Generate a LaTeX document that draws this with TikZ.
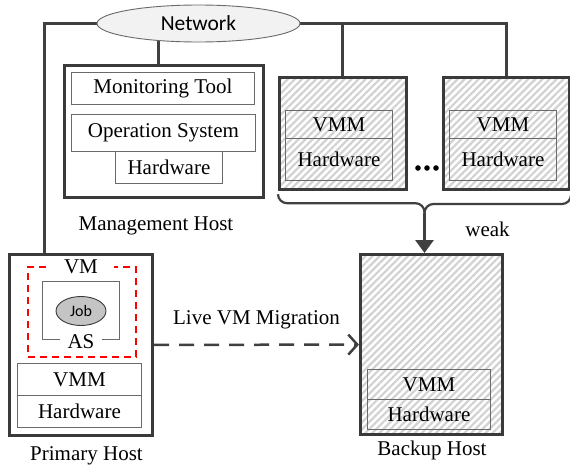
\documentclass[tikz,border=0pt]{standalone}
\usepackage{fontspec}
\setmainfont{Liberation Serif}
\newfontfamily\calibfont{Carlito}
\usetikzlibrary{shapes.geometric,arrows.meta,patterns.meta,calc}
\definecolor{wirec}{HTML}{404040}
\definecolor{edgec}{HTML}{3A3A3A}
\definecolor{thinc}{HTML}{6A6A6A}
\definecolor{hatchc}{HTML}{D2D2D2}
\definecolor{jobc}{HTML}{C4C4C4}
\definecolor{netc}{HTML}{F2F2F2}
\pgfdeclarelayer{paper}
\pgfdeclarelayer{wires}
\pgfsetlayers{paper,wires,main}

\begin{document}
\begin{tikzpicture}[x=1pt,y=-1pt,
  every node/.append style={font=\fontsize{21}{25}\selectfont},
  host/.style={draw=edgec,line width=3pt,inner sep=0pt,anchor=north west},
  hatched/.style={host,pattern={Lines[angle=45,distance=5pt,line width=2.2pt]},pattern color=hatchc},
  layer/.style={draw=thinc,line width=0.9pt,inner sep=0pt,anchor=north west},
  wire/.style={draw=wirec,line width=3pt},
  bracec/.style={draw=wirec,line width=2.2pt,rounded corners=9pt},
  caption/.style={anchor=base,inner sep=0pt}]

\useasboundingbox (0,0) rectangle (570,466);
\begin{pgfonlayer}{paper}
  \fill[white] (0,0) rectangle (570,466);
\end{pgfonlayer}

% network
\node[ellipse,draw=thinc,line width=0.9pt,fill=netc,minimum width=203pt,minimum height=37pt,inner sep=0pt,
      font=\calibfont\fontsize{21.5}{25}\selectfont] (net) at (198.5,23.5) {Network};

% management host
\node[host,minimum width=199pt,minimum height=132pt] (mh) at (63,64) {};
\node[layer,minimum width=183pt,minimum height=32pt] (mon) at (71,72) {Monitoring Tool};
\node[layer,minimum width=184pt,minimum height=37pt] (os) at (71,114) {Operation System};
\node[layer,minimum width=107pt,minimum height=32pt] (mhw) at (115,151) {Hardware};
\node[caption] (mcap) at (156,230.5) {Management Host};

% pool of hosts
\node[hatched,minimum width=127pt,minimum height=112pt] (h1) at (278,76) {};
\node[layer,minimum width=107pt,minimum height=28pt] (h1vmm) at (285,110) {VMM};
\node[layer,minimum width=107pt,minimum height=42pt] (h1hw) at (285,138) {Hardware};
\node[hatched,minimum width=126pt,minimum height=112pt] (h2) at (442,76) {};
\node[layer,minimum width=107pt,minimum height=28pt] (h2vmm) at (449,110) {VMM};
\node[layer,minimum width=107pt,minimum height=42pt] (h2hw) at (449,138) {Hardware};
\fill[black] (418,168) circle (2.8pt) (427,168) circle (2.8pt) (436,168) circle (2.8pt);

% primary host
\node[host,minimum width=143pt,minimum height=181pt] (ph) at (8,253) {};
\node[draw=red,line width=2.2pt,dash pattern=on 7pt off 5pt,inner sep=0pt,anchor=north west,
      minimum width=108pt,minimum height=90pt] (vm) at (27,266) {};
\node[draw=thinc,line width=0.9pt,inner sep=0pt,anchor=north west,
      minimum width=77pt,minimum height=58pt] (as) at (42,281) {};
\node[fill=white,inner xsep=16pt,inner ysep=3pt] (vmlab) at (81,266.5) {VM};
\node[fill=white,inner xsep=8pt,inner ysep=3pt] (aslab) at (81,342) {AS};
\node[ellipse,draw=edgec,line width=0.9pt,fill=jobc,minimum width=50pt,minimum height=29pt,inner sep=0pt,
      font=\calibfont\fontsize{16}{19}\selectfont] (job) at (81,311) {Job};
\node[layer,minimum width=124pt,minimum height=32pt] (pvmm) at (17,363) {VMM};
\node[layer,minimum width=124pt,minimum height=32pt] (phw) at (17,395) {Hardware};
\node[caption] (pcap) at (86.5,460) {Primary Host};

% backup host
\node[hatched,minimum width=142pt,minimum height=180pt] (bp) at (359,253) {};
\node[layer,minimum width=123pt,minimum height=30pt] (bvmm) at (367,369) {VMM};
\node[layer,minimum width=123pt,minimum height=30pt] (bhw) at (367,399) {Hardware};
\node[caption] (bcap) at (432,455) {Backup Host};

% network wiring
\coordinate (ltap) at ([xshift=36pt]ph.north west);
\coordinate (mtap) at ([xshift=95pt]mh.north west);
\begin{pgfonlayer}{wires}
  \draw[wire] (net.center) -| (ltap);
  \draw[wire] (mtap) -- (mtap |- net.center);
  \draw[wire] (net.center) -| (h2.north);
  \draw[wire] (h1.north) -- (h1.north |- net.center);
\end{pgfonlayer}

% brace under the pool and the weak link to the backup host
\coordinate (bl) at ([yshift=-4pt]h1.south west);
\coordinate (br) at ([yshift=-4pt]h2.south east);
\coordinate (bm) at ($(bl)!0.5!(br)$);
\coordinate (tip) at ($(bm)+(0,18)$);
\draw[bracec] (bl) -- ++(0,9) -| (tip);
\draw[bracec] (br) -- ++(0,9) -| (tip);
\draw[wire,-{Triangle[length=13pt,width=18pt]}] (tip) -- (tip |- bp.north);
\node[caption] (weak) at (487.5,236.5) {weak};

% live migration
\draw[draw=wirec,line width=2.5pt,dash pattern=on 15pt off 10pt,
      -{Straight Barb[length=9pt,width=20pt]}] (ph) -- (bp)
  node[midway,above=14pt,inner sep=0pt] (mig) {Live VM Migration};
\end{tikzpicture}
\end{document}
